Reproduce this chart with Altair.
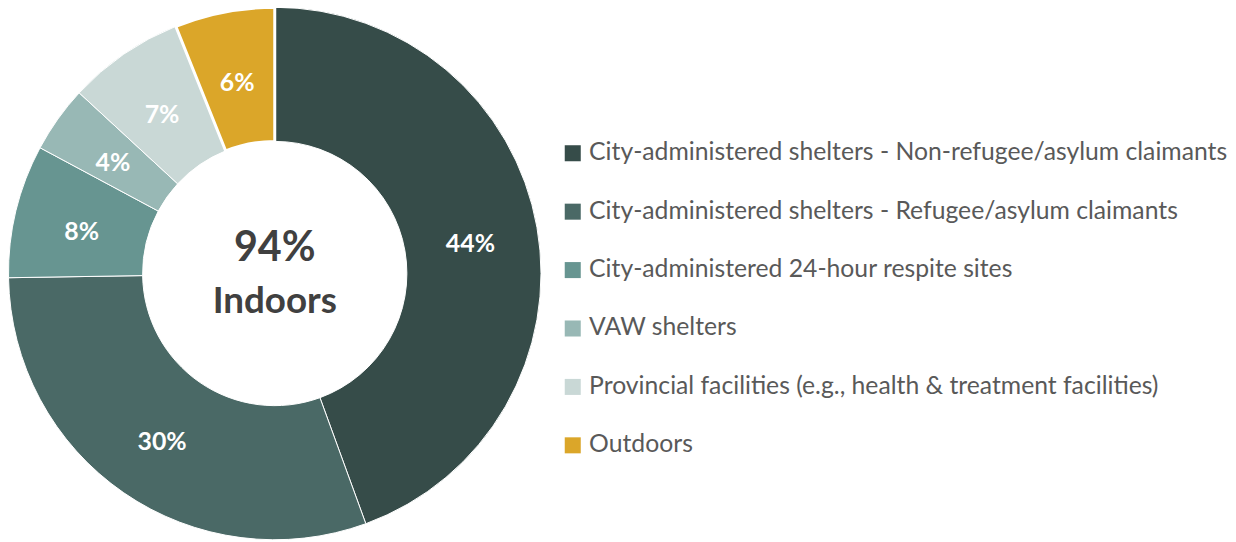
import altair as alt
import pandas as pd

categories = [
    "City-administered shelters - Non-refugee/asylum claimants",
    "City-administered shelters - Refugee/asylum claimants",
    "City-administered 24-hour respite sites",
    "VAW shelters",
    "Provincial facilities (e.g., health & treatment facilities)",
    "Outdoors",
]
values = [44, 30, 8, 4, 7, 6]
labels = ["44%", "30%", "8%", "4%", "7%", "6%"]
colors = ["#364C49", "#4A6966", "#679591", "#98B8B5", "#C9D8D6", "#DBA629"]
center_texts = ["94%", "Indoors"]

df = pd.DataFrame({
    "category": categories,
    "value": values,
    "label": labels,
    "idx": list(range(len(categories))),
})

FONT = "Lato"
CX, CY = 268.5, 265.5

color = alt.Color(
    "category:N",
    scale=alt.Scale(domain=categories, range=colors),
    sort=categories,
    legend=alt.Legend(
        title=None,
        orient="none",
        legendX=556,
        legendY=132,
        padding=0,
        symbolType="square",
        symbolSize=260,
        symbolStrokeWidth=0,
        labelFontSize=24.9,
        labelFont=FONT,
        labelColor="#595959",
        labelOffset=4,
        rowPadding=32.8,
        labelLimit=900,
    ),
)

base = alt.Chart(df).encode(
    theta=alt.Theta("value:Q", stack=True),
    order=alt.Order("idx:Q"),
)

arcs = base.mark_arc(outerRadius=268, innerRadius=133, stroke="white").encode(
    color=color,
    x=alt.value(CX),
    y=alt.value(CY),
    strokeWidth=alt.condition(alt.datum.category == "Outdoors", alt.value(3), alt.value(1)),
)

text = base.mark_text(
    radius=200, font=FONT, fontSize=25, fontWeight="bold", color="white", dy=5
).encode(
    text="label:N",
    x=alt.value(CX),
    y=alt.value(CY),
)

cdf = pd.DataFrame({"t": center_texts, "i": [0, 1]})
center1 = alt.Chart(cdf).transform_filter(alt.datum.i == 0).mark_text(
    font=FONT, fontSize=41.5, fontWeight="bold", color="#404040"
).encode(text="t:N", x=alt.value(CX), y=alt.value(241))
center2 = alt.Chart(cdf).transform_filter(alt.datum.i == 1).mark_text(
    font=FONT, fontSize=37, fontWeight="bold", color="#404040"
).encode(text="t:N", x=alt.value(CX), y=alt.value(294))

chart = alt.layer(arcs, text, center1, center2).properties(
    width=1228, height=534, padding=0,
    autosize=alt.AutoSizeParams(type="none"),
).configure_view(stroke=None)

chart.save("out.html", embed_options={"renderer": "svg", "actions": False})
